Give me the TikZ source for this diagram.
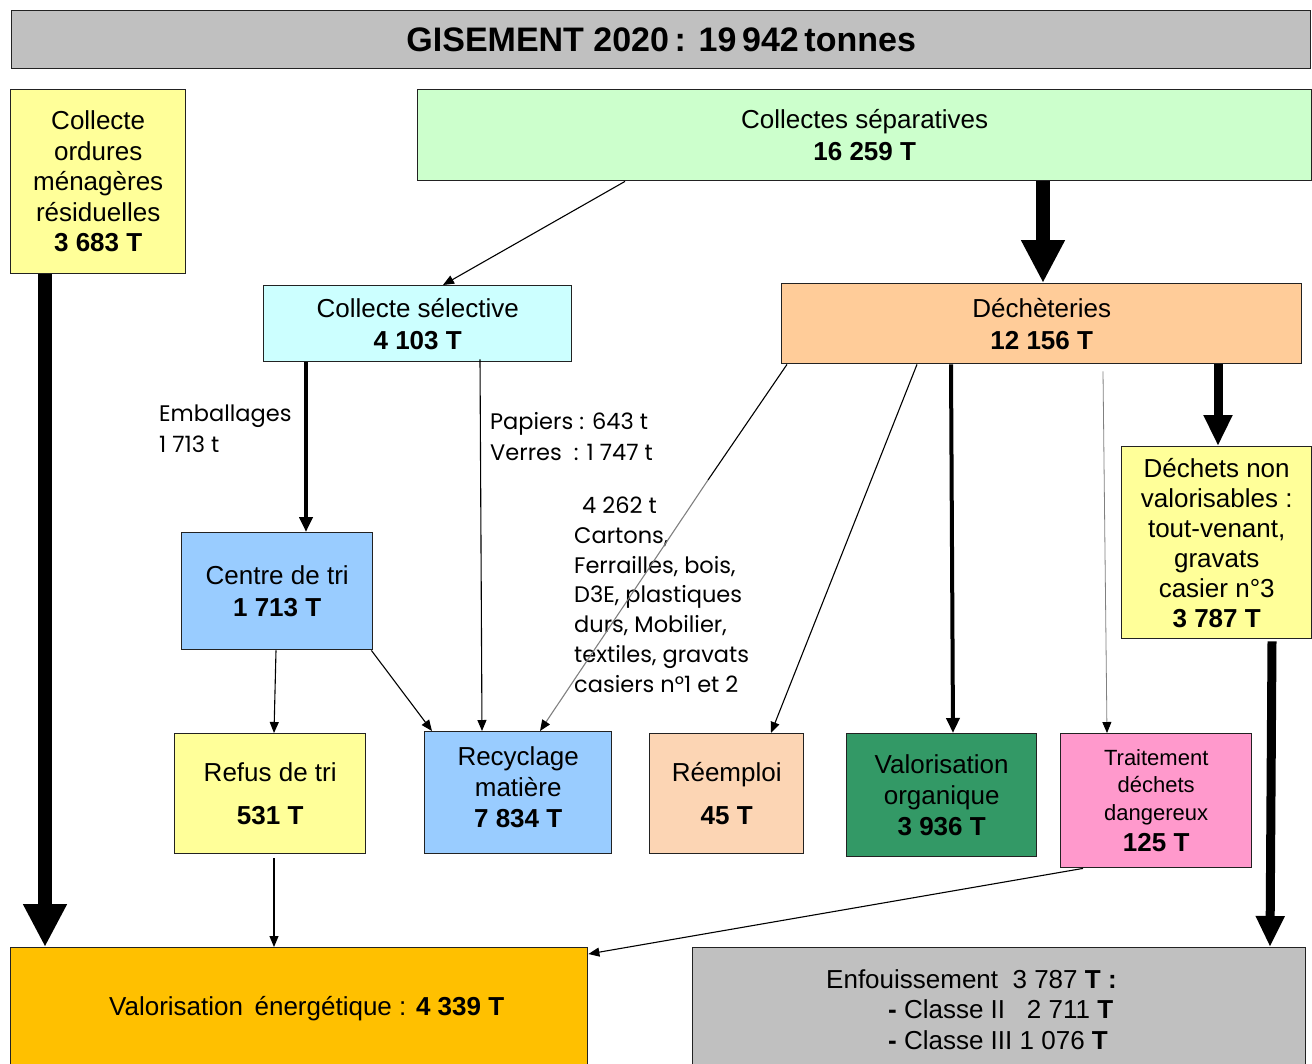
\documentclass[tikz,border=0pt]{standalone}
\usepackage{fontspec}
\setmainfont{Liberation Sans}
\newfontfamily\gothic{Poppins}
\usetikzlibrary{arrows.meta,calc}
\definecolor{cgray}{HTML}{C0C0C0}
\definecolor{cyellow}{HTML}{FFFF99}
\definecolor{cgreenl}{HTML}{CCFFCC}
\definecolor{ccyan}{HTML}{CCFFFF}
\definecolor{corange}{HTML}{FFCC99}
\definecolor{cblue}{HTML}{99CCFF}
\definecolor{cpeach}{HTML}{FCD5B4}
\definecolor{cgreen}{HTML}{339966}
\definecolor{cpink}{HTML}{FF99CC}
\definecolor{cgold}{HTML}{FFC000}
\definecolor{cedge}{HTML}{222222}
\tikzset{
  box/.style={draw=cedge, line width=1.4pt, inner sep=0pt, anchor=north west, align=center,
    font=\fontsize{26}{32}\selectfont},
  lbl/.style={inner sep=0pt, anchor=north west, align=left, font=\gothic\fontsize{22.5}{31}\selectfont},
  thin/.style={line width=1.1pt, -{Triangle[length=11pt,width=9pt]}},
  med/.style={line width=4pt, -{Triangle[length=15pt,width=13pt]}},
  heavy/.style={line width=14pt, -{Triangle[length=43pt,width=41pt]}},
  heavyb/.style={line width=9pt, -{Triangle[length=31pt,width=27pt]}},
}
\begin{document}
\begin{tikzpicture}[x=1pt,y=-1pt]
\useasboundingbox (0,0) rectangle (1312,1063);
\clip (0,0) rectangle (1312,1063);
\fill[white] (0,0) rectangle (1312,1063);

% boxes
\node[box, fill=cgray, minimum width=1299pt, minimum height=58pt, font=\fontsize{34}{38}\selectfont\bfseries] (title) at (11,10) {GISEMENT 2020\,: 19\,942\,tonnes};
\node[box, fill=cyellow, minimum width=175pt, minimum height=184pt, font=\fontsize{26}{30.5}\selectfont] (omr) at (10,89) {Collecte\\ordures\\ménagères\\résiduelles\\\textbf{3 683 T}};
\node[box, fill=cgreenl, minimum width=894pt, minimum height=91pt] (collsep) at (417,89) {Collectes séparatives\\\textbf{16 259 T}};
\node[box, fill=ccyan, minimum width=308pt, minimum height=76pt] (sel) at (263,285) {Collecte sélective\\\textbf{4 103 T}};
\node[box, fill=corange, minimum width=520pt, minimum height=80pt] (dech) at (781,283) {Déchèteries\\\textbf{12 156 T}};
\node[box, fill=cyellow, minimum width=190pt, minimum height=192pt, font=\fontsize{26}{30}\selectfont] (dnv) at (1121,446) {Déchets non\\valorisables :\\tout-venant,\\gravats\\casier n°3\\\textbf{3 787 T}};
\node[box, fill=cblue, minimum width=191pt, minimum height=117pt] (tri) at (181,532) {Centre de tri\\\textbf{1 713 T}};
\node[box, fill=cyellow, minimum width=191pt, minimum height=120pt, font=\fontsize{26}{43}\selectfont] (refus) at (174,733) {Refus de tri\\\textbf{531 T}};
\node[box, fill=cblue, minimum width=187pt, minimum height=122pt, font=\fontsize{26}{31}\selectfont] (recy) at (424,731) {Recyclage\\matière\\\textbf{7 834 T}\rule[-12pt]{0pt}{1pt}};
\node[box, fill=cpeach, minimum width=154pt, minimum height=120pt, font=\fontsize{26}{43}\selectfont] (reemp) at (649,733) {Réemploi\\\textbf{45 T}};
\node[box, fill=cgreen, minimum width=190pt, minimum height=123pt, font=\fontsize{26}{31}\selectfont] (valorg) at (846,733) {Valorisation\\organique\\\textbf{3 936 T}};
\node[box, fill=cpink, minimum width=191pt, minimum height=134pt, font=\fontsize{22}{27.5}\selectfont] (dd) at (1060,733) {Traitement\\déchets\\dangereux\\[4pt]{\fontsize{26}{31}\selectfont\bfseries 125 T}};
\node[box, fill=cgold, minimum width=577pt, minimum height=122pt] (valen) at (10,947) {\hspace*{15pt}Valorisation\ \,énergétique : \textbf{4 339 T}};
\node[box, fill=cgray, minimum width=613pt, minimum height=122pt] (enf) at (692,947) {};
\node[inner sep=0pt, anchor=north west, align=left, font=\fontsize{26}{30.5}\selectfont] (enftxt) at (826,969) {Enfouissement\ \ 3 787 \textbf{T :}\\
\hspace*{62pt}\textbf{-} Classe II\ \ \ 2 711 \textbf{T}\\
\hspace*{62pt}\textbf{-} Classe III\ 1 076 \textbf{T}};

% labels
\node[lbl] (emb) at (159,405) {Emballages\\1 713 t};
\node[lbl] (pap) at (490,412) {Papiers : 643 t\\Verres\ \ : 1 747 t};
\node[lbl, font=\gothic\fontsize{22.5}{29.7}\selectfont] (car) at (574,497) {\hspace*{8pt}4 262 t\\Cartons,\\Ferrailles, bois,\\D3E, plastiques\\durs, Mobilier,\\textiles, gravats\\casiers n°1 et 2};

% connectors
\draw[heavy] ([xshift=35pt]omr.south west) -- ([xshift=35pt]valen.north west);
\draw[thin] ([xshift=208pt]collsep.south west) -- ([xshift=180pt]sel.north west);
\draw[heavy] ([xshift=626pt]collsep.south west) -- ([xshift=262pt]dech.north west);
\draw[med] ([xshift=43pt]sel.south west) -- ([xshift=125pt]tri.north west);
\draw[thin] ([xshift=217pt,yshift=3pt]sel.south west) -- ([xshift=58pt]recy.north west);
\draw[thin] ([xshift=95pt]tri.south west) -- ([xshift=100pt]refus.north west);
\draw[thin] ([xshift=-2pt]tri.south east) -- ([xshift=8pt]recy.north west);
\coordinate (m8) at (708,480);
\draw[line width=1.1pt] ([xshift=6pt]dech.south west) -- (m8);
\draw[line width=1.1pt, draw=gray, -{Triangle[length=11pt,width=9pt,color=black]}] (m8) -- ([xshift=116pt]recy.north west);
\draw[thin] ([xshift=136pt]dech.south west) -- ([xshift=122pt]reemp.north west);
\draw[med] ([xshift=170pt]dech.south west) -- ([xshift=107pt]valorg.north west);
\draw[line width=0.8pt, draw=gray, -{Triangle[length=11pt,width=9pt,color=black]}] ([xshift=322pt,yshift=-7pt]dech.south west) -- ([xshift=47pt]dd.north west);
\draw[heavyb] ([xshift=437pt]dech.south west) -- ([xshift=97pt]dnv.north west);
\draw[heavyb] ([xshift=151pt,yshift=-2pt]dnv.south west) -- ([xshift=578pt]enf.north west);
\draw[thin] ([xshift=100pt,yshift=-4pt]refus.south west) -- ([xshift=264pt]valen.north west);
\draw[thin] ([xshift=23pt]dd.south west) -- ([yshift=-7pt]valen.north east);
\end{tikzpicture}
\end{document}
